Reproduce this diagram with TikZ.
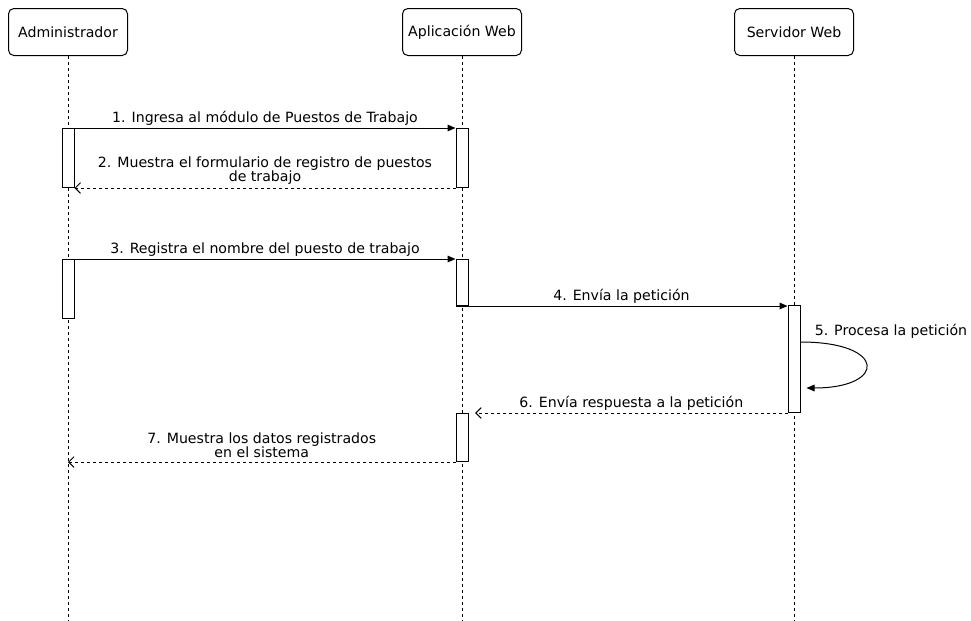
\documentclass[tikz,border=0pt]{standalone}
\usepackage{fontspec}
\setmainfont{DejaVu Sans}
\usetikzlibrary{positioning, arrows.meta}

\tikzset{
    actor/.style={draw, rounded corners=4pt, line width=0.75pt,
        minimum width=89.25pt, minimum height=35.25pt, font=\fontsize{10.6pt}{12pt}\selectfont},
    bar/.style={draw, fill=white, line width=0.75pt, anchor=north,
        minimum width=9pt, inner sep=0pt},
    life/.style={line width=0.75pt, dash pattern=on 2.25pt off 2.25pt},
    msg/.style={line width=0.75pt, -{Triangle[length=6pt, width=5pt]}},
    reply/.style={line width=0.75pt, dash pattern=on 2.25pt off 2.25pt,
        -{Straight Barb[length=4pt, width=8pt]}},
    lbl/.style={font=\fontsize{10.6pt}{10.5pt}\selectfont, align=center, inner sep=1.5pt}
}

\begin{document}
\begin{tikzpicture}[x=0.75pt, y=-0.75pt]
    \useasboundingbox (0,0) rectangle (971,621);
    \coordinate (fin) at (0,621);

    % participants
    \node[actor] (adm) at (68,32) {Administrador};
    \node[actor] (web) at (462,32) {Aplicación Web};
    \node[actor] (srv) at (794,32) {Servidor Web};

    \draw[life] (adm.south) -- (adm.south |- fin);
    \draw[life] (web.south) -- (web.south |- fin);
    \draw[life] (srv.south) -- (srv.south |- fin);

    % activations
    \node[bar, minimum height=44.25pt] (a1) at (68,128) {};
    \node[bar, minimum height=44.25pt] (w1) at (462,128) {};
    \node[bar, minimum height=44.25pt] (a2) at (68,259) {};
    \node[bar, minimum height=34.5pt] (w2) at (462,259) {};
    \node[bar, minimum height=80.25pt] (s1) at (794,305) {};
    \node[bar, minimum height=36pt] (w3) at (462,413) {};

    % messages
    \draw[msg] (a1.north east) -- (w1.north west)
        node[lbl, midway, above] (m1) {1. Ingresa al módulo de Puestos de Trabajo};
    \draw[reply] (w1.south west) -- (a1.south east)
        node[lbl, midway, above, yshift=1pt] (m2) {2. Muestra el formulario de registro de puestos\\de trabajo};
    \draw[msg] (a2.north east) -- (w2.north west)
        node[lbl, midway, above] (m3) {3. Registra el nombre del puesto de trabajo};
    \draw[msg] (w2.south west) -- (w2.south west -| s1.west)
        node[lbl, midway, above] (m4) {4. Envía la petición};
    \draw[msg] ([yshift=-27.75pt]s1.north east)
        .. controls +(87,0) and +(80,0) .. ([xshift=4.5pt, yshift=-62.25pt]s1.north east)
        coordinate (back);
    \node[lbl, anchor=south west] (m5) at ([xshift=9pt, yshift=-27pt]s1.north east) {5. Procesa la petición};
    \draw[reply] (s1.south west) -- ([xshift=5pt]s1.south west -| w3.east)
        node[lbl, midway, above] (m6) {6. Envía respuesta a la petición};
    \draw[reply] (w3.south west) -- (w3.south west -| adm)
        node[lbl, midway, above, yshift=1pt] (m7) {7. Muestra los datos registrados\\en el sistema};
\end{tikzpicture}
\end{document}
